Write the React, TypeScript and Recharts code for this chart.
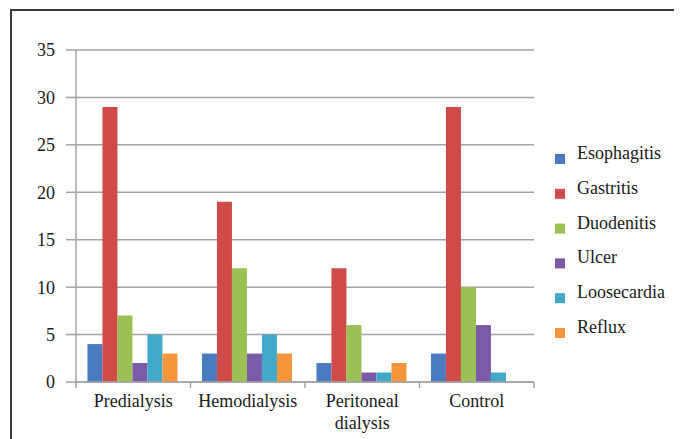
import React from "react";
import { BarChart, Bar, XAxis, YAxis, CartesianGrid } from "recharts";

const categories = ["Predialysis", "Hemodialysis", "Peritoneal dialysis", "Control"];
const esophagitis = [4, 3, 2, 3];
const gastritis = [29, 19, 12, 29];
const duodenitis = [7, 12, 6, 10];
const ulcer = [2, 3, 1, 6];
const loosecardia = [5, 5, 1, 1];
const reflux = [3, 3, 2, 0];
const yTicks = [0, 5, 10, 15, 20, 25, 30, 35];

const seriesNames = ["Esophagitis", "Gastritis", "Duodenitis", "Ulcer", "Loosecardia", "Reflux"];
const seriesValues = [esophagitis, gastritis, duodenitis, ulcer, loosecardia, reflux];
const seriesColors = ["#4a7bc0", "#cf4b47", "#9bc053", "#7c5ba6", "#40a9c9", "#f7953c"];

const data = categories.map((c, i) => {
  const row: Record<string, string | number> = { name: c };
  seriesNames.forEach((s, k) => {
    row[s] = seriesValues[k][i];
  });
  return row;
});

const FONT = '"Liberation Serif", "Times New Roman", serif';
const GRID = "#a3a3a3";
const TEXT = "#1a1a1a";

const XTick = (props: any) => {
  const { x, y, payload, index, visibleTicksCount } = props;
  const off = payload && payload.offset ? payload.offset : 57;
  const label: string = String(payload.value);
  const lines = label.includes(" ") ? label.split(" ") : [label];
  const last = index === (visibleTicksCount ?? categories.length) - 1;
  return (
    <g>
      <line x1={x - off} x2={x - off} y1={y} y2={y + 6} stroke={GRID} strokeWidth={1.5} />
      {last && <line x1={x + off} x2={x + off} y1={y} y2={y + 6} stroke={GRID} strokeWidth={1.5} />}
      <text x={x} y={y + 25} textAnchor="middle" fontFamily={FONT} fontSize={18} fill={TEXT}>
        {lines.map((l, i) => (
          <tspan key={i} x={x} dy={i === 0 ? 0 : 22}>
            {l}
          </tspan>
        ))}
      </text>
    </g>
  );
};

export default function App() {
  return (
    <div style={{ position: "relative", width: 674, height: 431, overflow: "hidden" }}>
      <div
        style={{
          position: "absolute",
          left: 2,
          top: 1,
          width: 700,
          height: 460,
          borderTop: "2px solid #3a3a3a",
          borderLeft: "2px solid #3a3a3a",
          boxSizing: "border-box",
        }}
      />
      <div style={{ position: "absolute", left: 0, top: 0 }}>
        <BarChart
          width={674}
          height={431}
          data={data}
          margin={{ top: 42, right: 148, bottom: 7, left: 0 }}
          barCategoryGap="10%"
          barGap={0}
        >
          <CartesianGrid vertical={false} stroke={GRID} strokeWidth={1.5} />
          <XAxis
            dataKey="name"
            height={50}
            axisLine={{ stroke: GRID, strokeWidth: 1.5 }}
            tickLine={false}
            tickSize={0}
            tickMargin={0}
            interval={0}
            tick={<XTick />}
          />
          <YAxis
            width={68}
            domain={[0, 35]}
            ticks={yTicks}
            interval={0}
            axisLine={{ stroke: GRID, strokeWidth: 1.5 }}
            tickLine={{ stroke: GRID, strokeWidth: 1.5 }}
            tickSize={10}
            tickMargin={11}
            tick={{ fontFamily: FONT, fontSize: 18, fill: TEXT }}
          />
          {seriesNames.map((s, k) => (
            <Bar key={s} dataKey={s} fill={seriesColors[k]} isAnimationActive={false} />
          ))}
        </BarChart>
      </div>
      <svg
        style={{ position: "absolute", left: 542, top: 122 }}
        width={132}
        height={230}
      >
        {seriesNames.map((s, i) => {
          const base = 29 + 34.8 * i;
          return (
            <g key={s}>
              <rect x={5} y={base - 5} width={10} height={10} fill={seriesColors[i]} />
              <text x={27} y={base} fontFamily={FONT} fontSize={18} fill={TEXT}>
                {s}
              </text>
            </g>
          );
        })}
      </svg>
    </div>
  );
}
